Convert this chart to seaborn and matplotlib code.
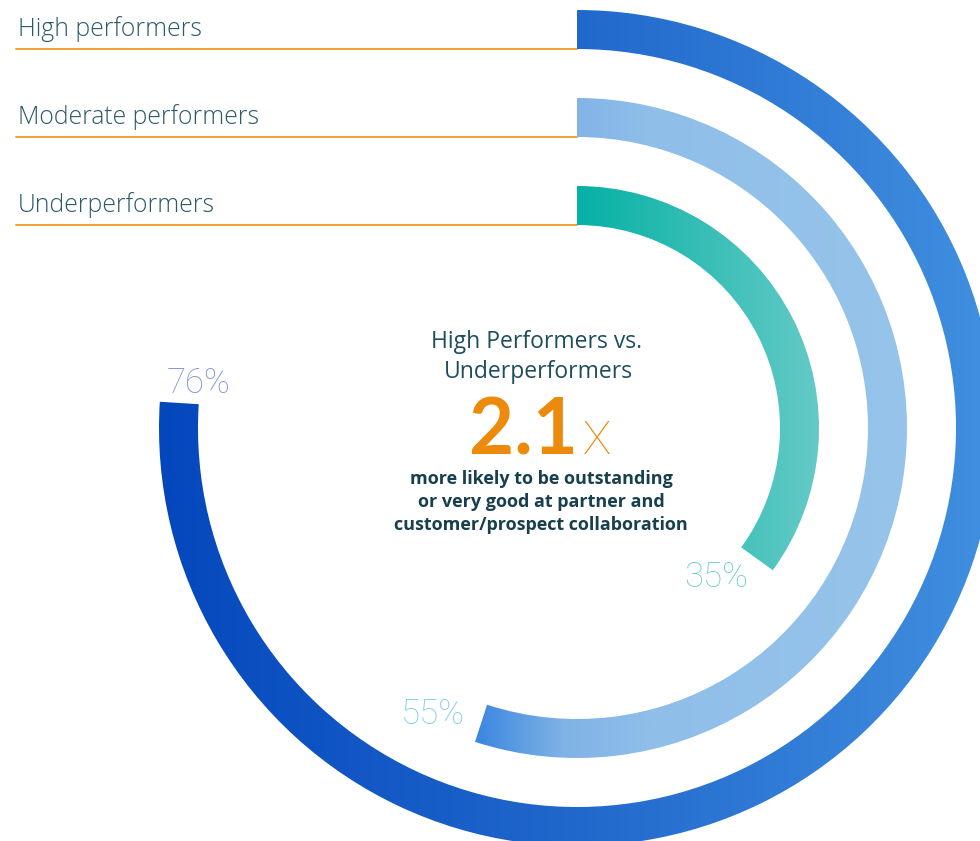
import numpy as np
import matplotlib
matplotlib.use("Agg")
import matplotlib.pyplot as plt
import seaborn as sns
from matplotlib.patches import Wedge
from matplotlib.colors import LinearSegmentedColormap

# data
groups = ["High performers", "Moderate performers", "Underperformers"]
values = [76, 55, 35]
value_labels = ["76%", "55%", "35%"]

# layout in pixel units (figure is 980 x 841)
cx, cy = 577, 428
outer_r = [418, 330, 242]
ring_w = 39

# horizontal gradients across each arc's own x span (position, colour)
gradients = [
    [(0.0, "#0447bd"), (0.5, "#2168cc"), (1.0, "#4190e0")],
    [(0.0, "#3a86e0"), (0.2, "#7fb2e6"), (0.4, "#8fbee9"), (1.0, "#96c4ea")],
    [(0.0, "#05b1a4"), (1.0, "#66cac7")],
]
label_colors = ["#7f96d6", "#80cbee", "#6fd0cb"]
label_pos = [(199, 383), (433, 714), (716, 577)]

sns.set_theme(style="white")
plt.rcParams["font.family"] = ["Open Sans", "DejaVu Sans"]
thin = ["Roboto", "DejaVu Sans"]

fig = plt.figure(figsize=(9.8, 8.41), dpi=100)
ax = fig.add_axes([0, 0, 1, 1])
ax.set_xlim(0, 980)
ax.set_ylim(841, 0)
ax.set_aspect("equal")
ax.axis("off")

for i, (g, v) in enumerate(zip(groups, values)):
    r = outer_r[i]
    # clockwise from 12 o'clock (y axis is inverted)
    w = Wedge((cx, cy), r, -90, -90 + 3.6 * v, width=ring_w,
              facecolor="none", edgecolor="none")
    ax.add_patch(w)
    xs = w.get_path().vertices[:, 0]
    cmap = LinearSegmentedColormap.from_list("g%d" % i, gradients[i])
    grad = np.linspace(0, 1, 512).reshape(1, -1)
    im = ax.imshow(grad, cmap=cmap, extent=(xs.min(), xs.max(), cy + r, cy - r),
                   aspect="auto", interpolation="bilinear", zorder=2)
    im.set_clip_path(w)

    # category label + orange rule
    y_line = cy - r + ring_w
    ax.plot([16, cx], [y_line, y_line], color="#f29a1f", lw=1.3, zorder=1)
    ax.text(18, y_line - 13, g, fontsize=17.8, color="#2d5a68",
            ha="left", va="baseline", fontweight="light")

    ax.text(label_pos[i][0], label_pos[i][1], value_labels[i], fontsize=25,
            color=label_colors[i], ha="center", va="center",
            family=thin, fontweight="light")

# centre annotation
ax.text(536, 342, "High Performers vs.", fontsize=16.5, color="#1e4d5c",
        ha="center", va="center")
ax.text(538, 372, "Underperformers", fontsize=16.5, color="#1e4d5c",
        ha="center", va="center")
ax.text(578, 454, "2.1", fontsize=56, color="#ec8a0b", fontweight="bold",
        ha="right", va="baseline", family=["Lato", "DejaVu Sans"])
ax.text(583, 454, "X", fontsize=34, color="#ec8a0b", fontweight="light",
        ha="left", va="baseline", family=thin)
for j, line in enumerate(["more likely to be outstanding",
                          "or very good at partner and",
                          "customer/prospect collaboration"]):
    ax.text(541, 479 + 23 * j, line, fontsize=13, color="#173f4e",
            fontweight="bold", ha="center", va="center")

fig.savefig("out.png", dpi=100, facecolor="white")
